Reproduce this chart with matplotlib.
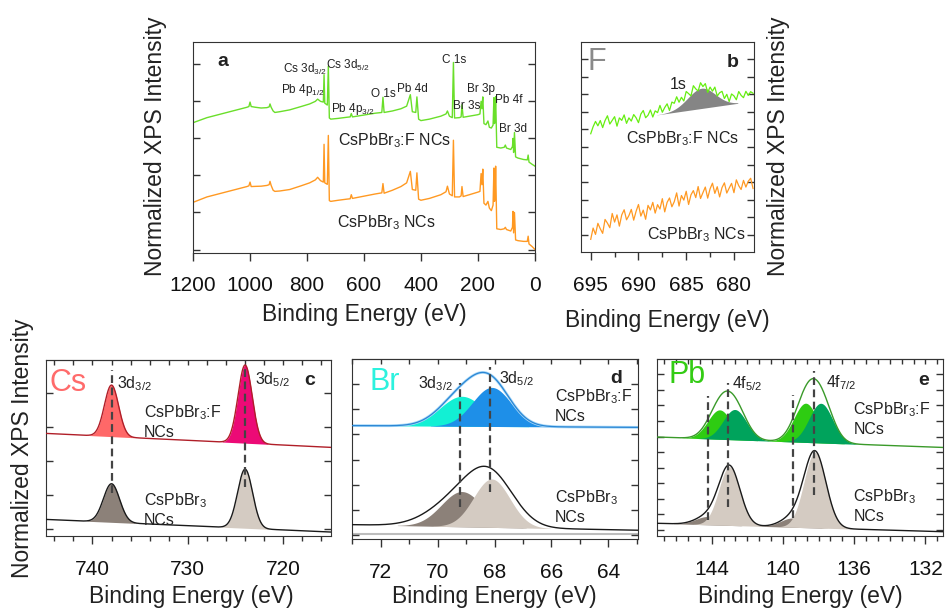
import numpy as np
import matplotlib
matplotlib.use('Agg')
import matplotlib.pyplot as plt
from matplotlib.ticker import MultipleLocator, AutoMinorLocator, NullFormatter

plt.rcParams['font.family'] = ['Liberation Sans', 'DejaVu Sans']
plt.rcParams['mathtext.fontset'] = 'custom'
plt.rcParams['mathtext.rm'] = 'Liberation Sans'
plt.rcParams['mathtext.it'] = 'Liberation Sans:italic'
plt.rcParams['mathtext.bf'] = 'Liberation Sans:bold'
plt.rcParams['text.color'] = '#222222'
plt.rcParams['axes.edgecolor'] = '#333333'
plt.rcParams['xtick.color'] = '#333333'
plt.rcParams['ytick.color'] = '#333333'
plt.rcParams['xtick.labelcolor'] = '#111111'

# ---- survey spectra (a), binding energy in eV, intensity in tick units ----
survey_be = [1200, 1150, 1100, 1050, 1010, 1003, 999, 995, 980, 960,
             940, 932, 929, 925, 918, 912, 895, 860, 820, 790,
             770, 762, 752, 742, 739.5, 737, 728, 724.5, 721, 716,
             690, 660, 648, 644, 640, 600, 560, 537, 533, 529,
             500, 470, 450, 437, 430, 418, 414, 408, 400, 370,
             330, 312, 307, 300, 290, 286, 282, 265, 259, 256,
             252, 230, 200, 193, 189, 186, 183, 179, 172, 165,
             160, 153, 147, 144, 142, 140, 138, 134, 120, 108,
             104, 100, 85, 79, 77, 75, 72, 68, 60, 40,
             27, 24, 21, 10, 0]
survey_f = [3.42, 3.56, 3.66, 3.76, 3.84, 3.86, 3.98, 3.86, 3.84, 3.82,
            3.83, 3.85, 3.93, 3.84, 3.74, 3.70, 3.72, 3.77, 3.86, 3.93,
            4.00, 4.06, 4.00, 3.98, 4.72, 3.95, 3.90, 4.95, 3.55, 3.52,
            3.54, 3.57, 3.58, 3.67, 3.58, 3.63, 3.68, 3.70, 4.11, 3.70,
            3.74, 3.80, 3.87, 4.18, 3.72, 3.70, 4.12, 3.52, 3.48, 3.52,
            3.60, 3.66, 3.74, 3.60, 3.56, 5.05, 3.55, 3.56, 3.58, 3.91,
            3.57, 3.60, 3.64, 3.66, 4.00, 3.80, 4.12, 3.40, 3.37, 3.47,
            3.30, 3.28, 3.36, 4.10, 3.40, 3.50, 4.13, 2.76, 2.74, 2.76,
            2.82, 2.74, 2.70, 2.78, 3.00, 2.62, 3.16, 2.50, 2.47, 2.43,
            2.42, 2.55, 2.36, 2.30, 2.25]
survey_pristine = [1.27, 1.42, 1.52, 1.62, 1.70, 1.72, 1.82, 1.70, 1.705, 1.71,
                   1.73, 1.75, 1.84, 1.73, 1.60, 1.57, 1.58, 1.62, 1.72, 1.80,
                   1.88, 1.95, 1.86, 1.82, 2.84, 1.80, 1.76, 3.08, 1.32, 1.30,
                   1.33, 1.36, 1.37, 1.48, 1.38, 1.44, 1.50, 1.53, 1.78, 1.52,
                   1.60, 1.70, 1.80, 2.11, 1.62, 1.60, 2.07, 1.36, 1.33, 1.38,
                   1.48, 1.56, 1.71, 1.50, 1.45, 2.95, 1.42, 1.42, 1.45, 1.70,
                   1.43, 1.48, 1.55, 1.57, 2.05, 1.75, 2.17, 1.25, 1.20, 1.30,
                   1.12, 1.05, 1.20, 2.20, 1.30, 1.40, 2.25, 0.56, 0.54, 0.56,
                   0.60, 0.54, 0.50, 0.60, 1.03, 0.45, 1.00, 0.26, 0.24, 0.22,
                   0.22, 0.36, 0.15, 0.08, 0.00]
survey_peak_names = ['Cs 3d$_{3/2}$', 'Cs 3d$_{5/2}$', 'Pb 4p$_{1/2}$', 'Pb 4p$_{3/2}$',
                     'O 1s', 'Pb 4d', 'C 1s', 'Br 3s', 'Br 3p', 'Pb 4f', 'Br 3d']

# ---- F 1s region (b), sampled every 0.25 eV from 695 to 678 eV ----
f1s_f = [5.75, 6.15, 6.45, 6.20, 6.50, 6.10, 6.50, 6.77, 6.30, 6.51,
         6.72, 6.18, 6.65, 6.51, 6.82, 6.34, 6.65, 6.47, 6.84, 6.66,
         6.38, 6.87, 7.07, 6.66, 6.80, 7.10, 6.70, 7.05, 6.95, 7.36,
         6.97, 7.24, 7.45, 7.07, 7.55, 7.48, 7.85, 7.54, 7.82, 7.61,
         8.15, 8.03, 7.90, 8.48, 8.30, 8.18, 8.65, 8.43, 8.60, 8.10,
         8.40, 8.17, 8.40, 7.89, 8.08, 8.16, 7.75, 7.99, 7.58, 8.01,
         7.90, 7.68, 8.15, 7.93, 7.80, 8.16, 7.93, 8.14, 8.05]
f1s_pristine = [-0.25, 0.39, 0.03, 0.66, 0.35, 0.09, 0.88, 0.67, 0.41, 1.22,
                0.73, 1.14, 0.50, 1.14, 1.43, 0.86, 1.10, 1.45, 0.84, 1.34,
                1.73, 1.07, 1.41, 0.89, 1.68, 1.42, 1.85, 1.24, 1.72, 1.47,
                2.06, 1.31, 1.85, 2.10, 1.60, 1.89, 2.39, 1.64, 2.24, 1.98,
                2.48, 1.73, 2.28, 2.52, 2.12, 2.75, 2.07, 2.40, 2.72, 2.09,
                2.62, 2.94, 2.36, 2.74, 2.16, 2.69, 2.96, 2.38, 2.66, 2.93,
                2.40, 3.13, 2.80, 2.58, 3.10, 2.72, 3.05, 3.22, 2.64]
f1s_center, f1s_height, f1s_fwhm = 683.4, 1.15, 3.4
f1s_bg_be = [688.1, 679.6]
f1s_bg = [6.82, 7.48]

# ---- Cs 3d (c) ----
cs_centers = [738.0, 724.0]
cs_f_height = [1.51, 2.29]
cs_f_fwhm = [1.75, 1.75]
cs_f_bg = [2.81, 2.40]
cs_p_height = [1.13, 1.73]
cs_p_fwhm = [2.0, 1.85]
cs_p_bg = [0.29, -0.08]

# ---- Br 3d (d) ----
br_centers = [69.15, 68.1]
br_f_height = [1.19, 1.55]
br_f_fwhm = [1.8, 1.6]
br_f_bg = [3.35, 3.28]
br_p_height = [1.40, 1.92]
br_p_fwhm = [1.7, 1.5]
br_p_bg = [-0.58, -0.80]
# measured envelope of the pristine Br 3d spectrum (broader than the fit components)
br_p_env_height = [1.15, 1.65]
br_p_env_fwhm = [2.4, 1.9]

# ---- Pb 4f (e) ----
pb_f_centers = [143.55, 142.70, 138.72, 137.87]
pb_f_height = [1.89, 1.95, 2.52, 2.55]
pb_f_fwhm = [1.55, 1.55, 1.55, 1.55]
pb_f_bg = [5.97, 5.30]
pb_p_centers = [144.22, 143.0, 139.44, 138.2]
pb_p_height = [0.53, 3.77, 0.60, 4.85]
pb_p_fwhm = [1.6, 1.4, 1.6, 1.45]
pb_p_bg = [0.43, -0.11]


def gauss(x, center, height, fwhm):
    sigma = fwhm / 2.3548
    return height * np.exp(-0.5 * ((x - center) / sigma) ** 2)


def linear_bg(x, x_ends, y_ends):
    return y_ends[0] + (y_ends[1] - y_ends[0]) * (x - x_ends[0]) / (x_ends[1] - x_ends[0])


W, H = 946, 609
fig = plt.figure(figsize=(W / 100, H / 100), dpi=100)


def px_axes(left, top, right, bottom):
    return fig.add_axes([left / W, 1 - bottom / H, (right - left) / W, (bottom - top) / H])


def style(ax, xlim, ylim, major, minor, top_ticks):
    ax.set_xlim(*xlim)
    ax.set_ylim(*ylim)
    ax.xaxis.set_major_locator(MultipleLocator(major))
    if minor:
        ax.xaxis.set_minor_locator(AutoMinorLocator(minor))
    ax.yaxis.set_major_locator(MultipleLocator(1))
    ax.tick_params(axis='x', which='both', direction='out', top=False, labelsize=15, pad=11)
    ax.tick_params(axis='x', which='major', length=6, width=1)
    ax.tick_params(axis='x', which='minor', length=3.5, width=1)
    ax.tick_params(axis='y', which='both', direction='in', left=True, right=True,
                   labelleft=False, length=5, width=1)
    if top_ticks:
        sec = ax.secondary_xaxis('top')
        sec.xaxis.set_major_locator(MultipleLocator(major))
        if minor:
            sec.xaxis.set_minor_locator(AutoMinorLocator(minor))
        sec.xaxis.set_major_formatter(NullFormatter())
        sec.tick_params(which='both', direction='in', length=3.5, width=1, labeltop=False)


label_kw = dict(fontsize=16.5, ha='center', va='center')
dash = (0, (3.5, 2))

# ---------------- (a) survey ----------------
ax = px_axes(192.7, 41.7, 535, 252.5)
style(ax, (1200, 0), (-0.08, 5.61), 200, None, False)
ax.plot(survey_be, survey_f, color='#6ADF2A', lw=1.0)
ax.plot(survey_be, survey_pristine, color='#FF9922', lw=1.0)
survey_label_pos = [(806.9, 4.87), (654.6, 4.97), (812.3, 4.30), (637.1, 3.79),
                    (532, 4.20), (430.3, 4.33), (284, 5.12), (239.6, 3.88),
                    (189.5, 4.33), (91.3, 4.04), (76.3, 3.25)]
for name, (x, y) in zip(survey_peak_names, survey_label_pos):
    ax.text(x, y, name, fontsize=8.5, ha='center', va='center')
ax.text(1094.8, 5.08, 'a', fontsize=14, fontweight='bold', ha='center', va='center')
ax.text(491, 2.95, 'CsPbBr$_3$:F NCs', fontsize=11.5, ha='center', va='center')
ax.text(522.5, 0.72, 'CsPbBr$_3$ NCs', fontsize=11.5, ha='center', va='center')
fig.text(364 / W, 1 - 315 / H, 'Binding Energy (eV)', **label_kw)
fig.text(155 / W, 1 - 146.5 / H, 'Normalized XPS Intensity', rotation=90, **label_kw)

# ---------------- (b) F 1s ----------------
ax = px_axes(580.7, 41.7, 754, 252)
style(ax, (696.05, 677.9), (-0.97, 10.98), 5, 2, False)
be_b = np.linspace(695, 678, len(f1s_f))
xb = np.linspace(f1s_bg_be[0], f1s_bg_be[1], 200)
bg_b = linear_bg(xb, f1s_bg_be, f1s_bg)
ax.fill_between(xb, bg_b, bg_b + gauss(xb, f1s_center, f1s_height, f1s_fwhm),
                color='#858585', lw=0, zorder=1)
ax.plot(be_b, f1s_f, color='#66EE11', lw=0.9, zorder=3)
ax.plot(be_b, f1s_pristine, color='#FF9922', lw=0.9, zorder=3)
ax.text(694.34, 9.83, 'F', fontsize=22, color='#8A8A8A', ha='center', va='center')
ax.text(680.1, 9.77, 'b', fontsize=14, fontweight='bold', ha='center', va='center')
ax.text(685.86, 8.52, '1s', fontsize=11.5, ha='center', va='center')
ax.text(685.34, 5.45, 'CsPbBr$_3$:F NCs', fontsize=11.5, ha='center', va='center')
ax.text(683.95, 0.0, 'CsPbBr$_3$ NCs', fontsize=11.5, ha='center', va='center')
fig.text(667.5 / W, 1 - 320 / H, 'Binding Energy (eV)', **label_kw)
fig.text(778 / W, 1 - 146.5 / H, 'Normalized XPS Intensity', rotation=90, **label_kw)


def draw_trace(ax, x, centers, heights, fwhms, bg_ends, colors, line_color, lw=1.0,
               halo=None, env_heights=None, env_fwhms=None):
    bg = linear_bg(x, (x[0], x[-1]), bg_ends)
    total = bg.copy()
    for c, h, w, col in zip(centers, heights, fwhms, colors):
        comp = gauss(x, c, h, w)
        total += comp
        mask = comp > 0.01
        ax.fill_between(x, bg, bg + comp, where=mask, color=col, lw=0, zorder=1)
    if env_heights is not None:
        total = bg.copy()
        for c, h, w in zip(centers, env_heights, env_fwhms):
            total += gauss(x, c, h, w)
    if halo:
        ax.plot(x, total, color=halo, lw=2.0, zorder=2)
    ax.plot(x, total, color=line_color, lw=lw, zorder=3)


# ---------------- (c) Cs 3d ----------------
ax = px_axes(45.7, 360, 331, 536)
style(ax, (744.9, 715.0), (-0.196, 4.96), 10, 5, True)
x = np.linspace(744.9, 715.0, 800)
draw_trace(ax, x, cs_centers, cs_f_height, cs_f_fwhm, cs_f_bg,
           ['#FF6868', '#EC0A76'], '#B01E28')
draw_trace(ax, x, cs_centers, cs_p_height, cs_p_fwhm, cs_p_bg,
           ['#8C8179', '#D4CBC2'], '#1A1A1A')
ax.vlines(cs_centers, [1.05, 1.25], [4.67, 4.80], colors='#444444', lw=1.6,
          linestyles=[dash], zorder=4)
ax.text(742.53, 4.28, 'Cs', fontsize=22, color='#FF6B6B', ha='center', va='center')
ax.text(737.47, 4.28, '3d$_{3/2}$', fontsize=11.5, ha='left', va='center')
ax.text(723.0, 4.37, '3d$_{5/2}$', fontsize=11.5, ha='left', va='center')
ax.text(717.22, 4.37, 'c', fontsize=14, fontweight='bold', ha='center', va='center')
ax.text(734.6, 3.15, 'CsPbBr$_3$:F\nNCs', fontsize=11.5, ha='left', va='center', linespacing=1.25)
ax.text(734.6, 0.59, 'CsPbBr$_3$\nNCs', fontsize=11.5, ha='left', va='center', linespacing=1.25)
fig.text(191 / W, 1 - 597 / H, 'Binding Energy (eV)', **label_kw)
fig.text(22 / W, 1 - 448 / H, 'Normalized XPS Intensity', rotation=90, **label_kw)

# ---------------- (d) Br 3d ----------------
ax = px_axes(352.3, 359.3, 637.7, 539.3)
style(ax, (73.0, 62.97), (-1.16, 5.98), 2, 2, True)
x = np.linspace(73.0, 62.97, 800)
ax.axhline(-0.95, color='#BDBDBD', lw=1.5, zorder=0)
draw_trace(ax, x, br_centers, br_f_height, br_f_fwhm, br_f_bg,
           ['#12F0D4', '#1E8FE8'], '#2A86D4', lw=0.9, halo='#A8D8F8')
draw_trace(ax, x, br_centers, br_p_height, br_p_fwhm, br_p_bg,
           ['#8C8179', '#D4CBC2'], '#1A1A1A',
           env_heights=br_p_env_height, env_fwhms=br_p_env_fwhm)
ax.vlines([69.2, 68.15], [0.13, 0.73], [5.03, 5.69], colors='#444444', lw=1.6,
          linestyles=[dash], zorder=4)
ax.text(71.85, 5.09, 'Br', fontsize=22, color='#2CF2DE', ha='center', va='center')
ax.text(70.68, 5.03, '3d$_{3/2}$', fontsize=11.5, ha='left', va='center')
ax.text(67.86, 5.23, '3d$_{5/2}$', fontsize=11.5, ha='left', va='center')
ax.text(63.73, 5.23, 'd', fontsize=14, fontweight='bold', ha='center', va='center')
ax.text(65.89, 4.15, 'CsPbBr$_3$:F\nNCs', fontsize=11.5, ha='left', va='center', linespacing=1.25)
ax.text(65.89, 0.145, 'CsPbBr$_3$\nNCs', fontsize=11.5, ha='left', va='center', linespacing=1.25)
fig.text(494 / W, 1 - 597 / H, 'Binding Energy (eV)', **label_kw)

# ---------------- (e) Pb 4f ----------------
ax = px_axes(657.3, 359, 943.3, 536)
style(ax, (147.05, 131.0), (-0.385, 10.98), 4, 6, True)
x = np.linspace(147.05, 131.0, 1000)
draw_trace(ax, x, pb_f_centers, pb_f_height, pb_f_fwhm, pb_f_bg,
           ['#2ECC12', '#00A35C', '#2ECC12', '#00A35C'], '#3A9A2A')
draw_trace(ax, x, pb_p_centers, pb_p_height, pb_p_fwhm, pb_p_bg,
           ['#8C8179', '#D4CBC2', '#8C8179', '#D4CBC2'], '#1A1A1A')
ax.vlines([144.22, 143.07, 139.44, 138.27], [0.64, 1.5, 0.75, 2.25],
          [8.6, 9.42, 8.67, 10.23], colors='#444444', lw=1.6, linestyles=[dash], zorder=4)
ax.text(145.4, 9.95, 'Pb', fontsize=22, color='#33CC14', ha='center', va='center')
ax.text(142.83, 9.42, '4f$_{5/2}$', fontsize=11.5, ha='left', va='center')
ax.text(137.58, 9.46, '4f$_{7/2}$', fontsize=11.5, ha='left', va='center')
ax.text(132.08, 9.63, 'e', fontsize=14, fontweight='bold', ha='center', va='center')
ax.text(136.05, 7.16, 'CsPbBr$_3$:F\nNCs', fontsize=11.5, ha='left', va='center', linespacing=1.25)
ax.text(136.05, 1.55, 'CsPbBr$_3$\nNCs', fontsize=11.5, ha='left', va='center', linespacing=1.25)
fig.text(800.5 / W, 1 - 597 / H, 'Binding Energy (eV)', **label_kw)

fig.savefig('out.png', dpi=100)
